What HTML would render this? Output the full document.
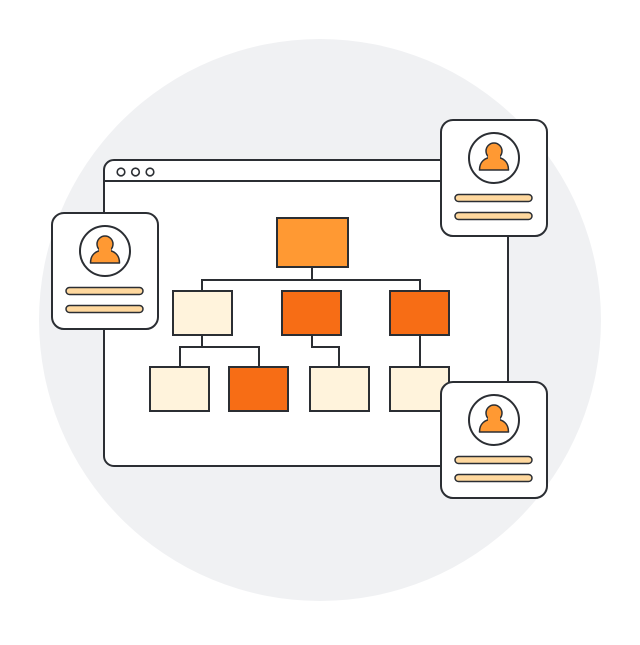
<!DOCTYPE html><html><head><style>body{margin:0;background:#fff}</style></head><body>
<svg width="640" height="640" viewBox="0 0 640 640" xmlns="http://www.w3.org/2000/svg">
<circle cx="320" cy="320" r="281" fill="#F0F1F3"/>
<g stroke="#2B2E33" stroke-width="2">
<rect x="104" y="160" width="404" height="306" rx="10" fill="#fff"/>
<line x1="104" y1="181" x2="508" y2="181"/>
<circle cx="121" cy="172" r="3.8" fill="#fff" stroke-width="1.6"/>
<circle cx="135.5" cy="172" r="3.8" fill="#fff" stroke-width="1.6"/>
<circle cx="150" cy="172" r="3.8" fill="#fff" stroke-width="1.6"/>
<g fill="none">
<path d="M312 267V280M202 291V280H420V291M202 335V347M180 367V347H259V367M312 335V347H339V367M420 335V367"/>
</g>
<rect x="277" y="218" width="71" height="49" fill="#FF9933"/>
<rect x="173" y="291" width="59" height="44" fill="#FFF3DC"/>
<rect x="282" y="291" width="59" height="44" fill="#F76D15"/>
<rect x="390" y="291" width="59" height="44" fill="#F76D15"/>
<rect x="150" y="367" width="59" height="44" fill="#FFF3DC"/>
<rect x="229" y="367" width="59" height="44" fill="#F76D15"/>
<rect x="310" y="367" width="59" height="44" fill="#FFF3DC"/>
<rect x="390" y="367" width="59" height="44" fill="#FFF3DC"/>
</g>
<defs>
<g id="card">
<rect x="0" y="0" width="106" height="116" rx="12" fill="#fff" stroke="#2B2E33" stroke-width="2"/>
<circle cx="53" cy="38" r="25" fill="#fff" stroke="#2B2E33" stroke-width="2"/>
<path d="M38.5 50c0-8 5-13 14.5-13s14.5 5 14.5 13z" fill="#FF9933" stroke="#2B2E33" stroke-width="1.5" stroke-linejoin="round"/>
<circle cx="53" cy="31" r="8" fill="#FF9933" stroke="#2B2E33" stroke-width="1.5"/>
<rect x="47" y="35" width="12" height="5" fill="#FF9933"/>
<rect x="14" y="74.5" width="77" height="7" rx="3.5" fill="#FFD89E" stroke="#2B2E33" stroke-width="1.5"/>
<rect x="14" y="92.5" width="77" height="7" rx="3.5" fill="#FFD89E" stroke="#2B2E33" stroke-width="1.5"/>
</g>
</defs>
<use href="#card" x="52" y="213"/>
<use href="#card" x="441" y="120"/>
<use href="#card" x="441" y="382"/>
</svg>
</body></html>
